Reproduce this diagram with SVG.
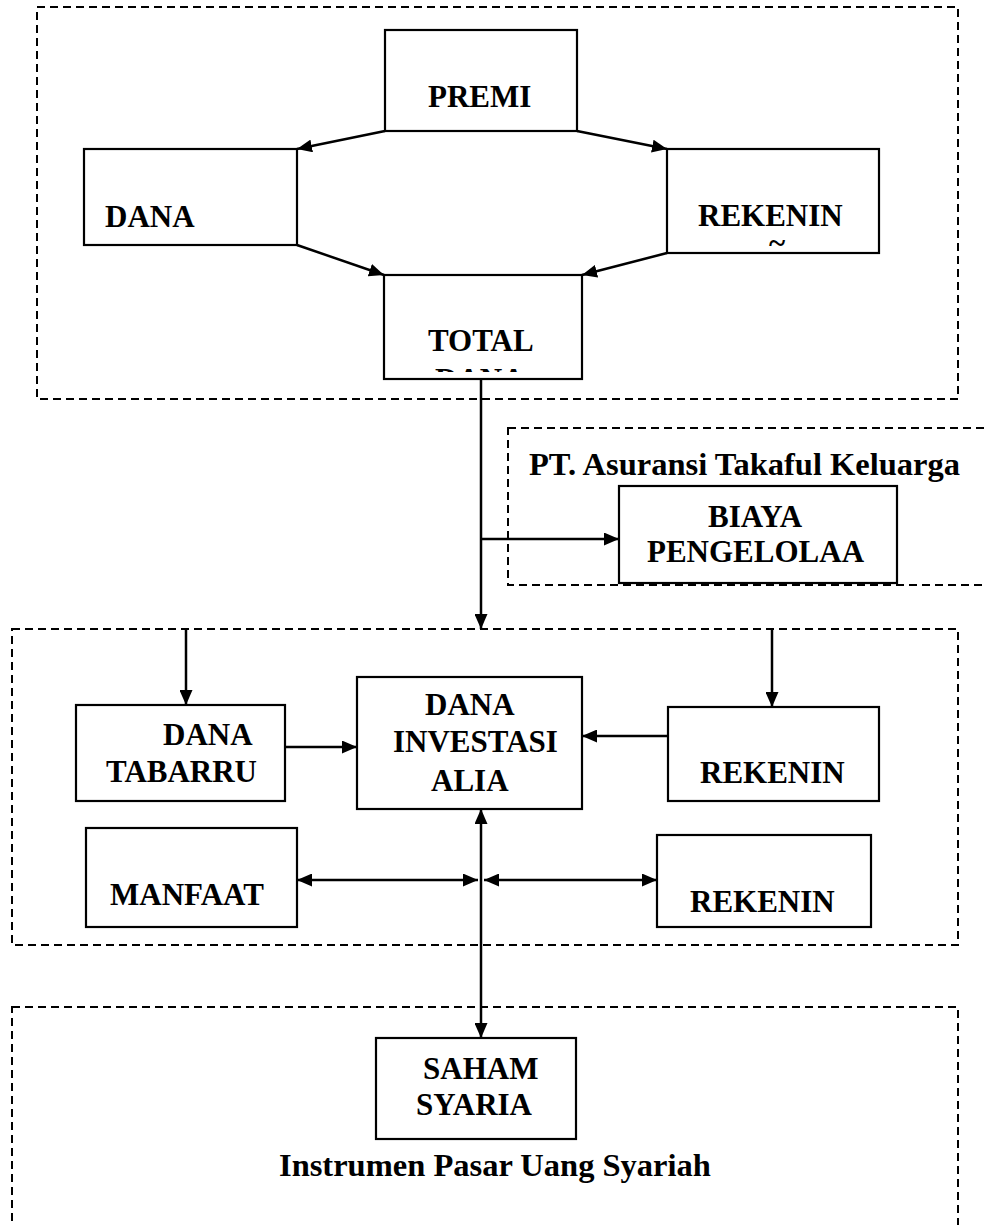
<svg xmlns="http://www.w3.org/2000/svg" width="984" height="1225" viewBox="0 0 984 1225">
<style>
.box{fill:#fff;stroke:#000;stroke-width:2.2}
.dash{fill:none;stroke:#000;stroke-width:2;stroke-dasharray:8 5}
.t{font-family:"Liberation Serif","Times New Roman",serif;font-weight:bold;font-size:31px;fill:#000}
.big{font-size:32.5px}
.c{stroke:#000;stroke-width:2.5;fill:none}
.a{marker-end:url(#ah)}
.d{marker-start:url(#ah);marker-end:url(#ah)}
</style>
<defs>
<marker id="ah" markerWidth="15" markerHeight="13" refX="15" refY="6.5" orient="auto-start-reverse" markerUnits="userSpaceOnUse"><path d="M0,0 L15,6.5 L0,13 z" fill="#000"/></marker>
<clipPath id="clipTotal"><rect x="384" y="275" width="198" height="97"/></clipPath>
</defs>
<rect width="984" height="1225" fill="#fff"/>
<g id="groups">
<rect id="grpTop" class="dash" x="37" y="7" width="921" height="392"/>
<rect id="grpPT" class="dash" x="508" y="428" width="490" height="157"/>
<rect id="grpMid" class="dash" x="12" y="629" width="946" height="316"/>
<rect id="grpBottom" class="dash" x="12" y="1007" width="946" height="240"/>
</g>
<g id="premi"><rect class="box" x="385" y="30" width="192" height="101"/><text class="t" x="428" y="107">PREMI</text></g>
<g id="dana"><rect class="box" x="84" y="149" width="213" height="96"/><text class="t" x="105" y="227">DANA</text></g>
<g id="rekening1"><rect class="box" x="667" y="149" width="212" height="104"/><text class="t" x="698" y="226">REKENIN</text><text class="t" x="769" y="253">~</text></g>
<g id="total"><rect class="box" x="384" y="275" width="198" height="104"/><text class="t" x="428" y="351">TOTAL</text><text class="t" x="435" y="390" clip-path="url(#clipTotal)">DANA</text></g>
<g id="ptlabel"><text class="t big" x="529" y="475">PT. Asuransi Takaful Keluarga</text></g>
<g id="biaya"><rect class="box" x="619" y="486" width="278" height="97"/><text class="t" x="708" y="527">BIAYA</text><text class="t" x="647" y="562">PENGELOLAA</text></g>
<g id="tabarru"><rect class="box" x="76" y="705" width="209" height="96"/><text class="t" x="163" y="745">DANA</text><text class="t" x="106" y="782">TABARRU</text></g>
<g id="investasi"><rect class="box" x="357" y="677" width="225" height="132"/><text class="t" x="425" y="715">DANA</text><text class="t" x="393" y="752">INVESTASI</text><text class="t" x="431" y="791">ALIA</text></g>
<g id="rekening2"><rect class="box" x="668" y="707" width="211" height="94"/><text class="t" x="700" y="783">REKENIN</text></g>
<g id="manfaat"><rect class="box" x="86" y="828" width="211" height="99"/><text class="t" x="110" y="905">MANFAAT</text></g>
<g id="rekening3"><rect class="box" x="657" y="835" width="214" height="92"/><text class="t" x="690" y="912">REKENIN</text></g>
<g id="saham"><rect class="box" x="376" y="1038" width="200" height="101"/><text class="t" x="423" y="1079">SAHAM</text><text class="t" x="416" y="1115">SYARIA</text></g>
<g id="instrumen"><text class="t big" x="279" y="1176">Instrumen Pasar Uang Syariah</text></g>
<g id="connectors">
<line class="c a" x1="385" y1="131" x2="297" y2="149"/>
<line class="c a" x1="577" y1="131" x2="667" y2="149"/>
<line class="c a" x1="297" y1="245" x2="384" y2="275"/>
<line class="c a" x1="667" y1="253" x2="582" y2="275"/>
<line class="c a" x1="481" y1="379" x2="481" y2="629"/>
<line class="c a" x1="481" y1="539" x2="619" y2="539"/>
<line class="c a" x1="186" y1="629" x2="186" y2="705"/>
<line class="c a" x1="772" y1="629" x2="772" y2="707"/>
<line class="c a" x1="285" y1="747" x2="357" y2="747"/>
<line class="c a" x1="668" y1="736" x2="582" y2="736"/>
<line class="c d" x1="481" y1="809" x2="481" y2="1038"/>
<line class="c d" x1="297" y1="880" x2="478" y2="880"/>
<line class="c d" x1="484" y1="880" x2="657" y2="880"/>
</g>
</svg>
